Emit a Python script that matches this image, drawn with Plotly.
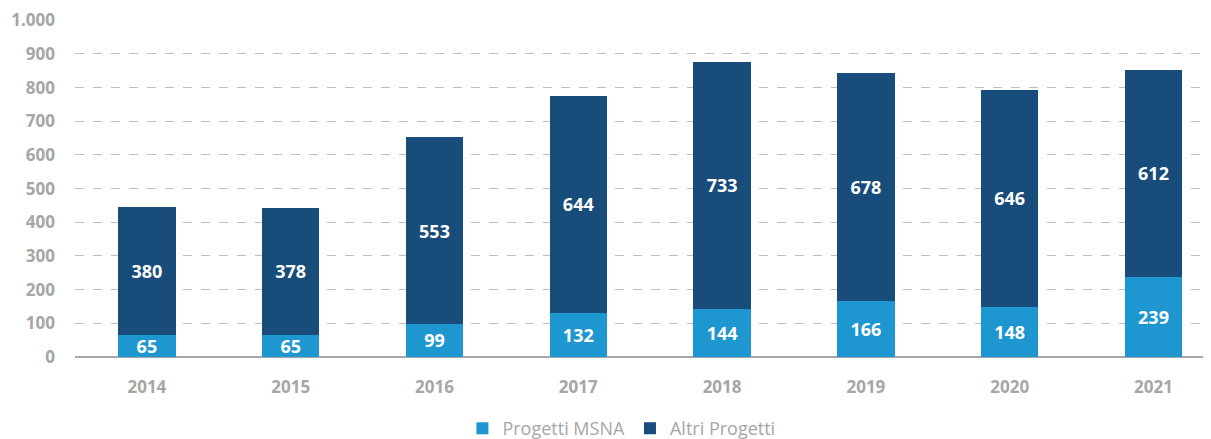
import plotly.graph_objects as go

years = ["2014", "2015", "2016", "2017", "2018", "2019", "2020", "2021"]
msna = [65, 65, 99, 132, 144, 166, 148, 239]
altri = [380, 378, 553, 644, 733, 678, 646, 612]
y_ticks = [0, 100, 200, 300, 400, 500, 600, 700, 800, 900, 1000]
y_tick_text = ["0", "100", "200", "300", "400", "500", "600", "700", "800", "900", "1.000"]

LIGHT = "#1E97D0"
DARK = "#184C7A"
GREY = "#A6A6A6"
FONT = "Open Sans"

fig = go.Figure()
fig.add_trace(go.Bar(
    x=years, y=msna, name="Progetti MSNA", marker=dict(color=LIGHT, line=dict(width=0)),
    text=[str(v) for v in msna], textposition="inside", insidetextanchor="middle",
    textangle=0, constraintext="none",
    textfont=dict(color="white", size=18, family=FONT, weight="bold"),
))
fig.add_trace(go.Bar(
    x=years, y=altri, name="Altri Progetti", marker=dict(color=DARK, line=dict(width=0)),
    text=[str(v) for v in altri], textposition="inside", insidetextanchor="middle",
    textangle=0, constraintext="none",
    textfont=dict(color="white", size=18, family=FONT, weight="bold"),
))

fig.update_layout(
    barmode="stack", bargap=0.6,
    width=1211, height=439,
    margin=dict(l=67, r=8, t=12, b=90, autoexpand=False),
    plot_bgcolor="white", paper_bgcolor="white",
    font=dict(family=FONT, color=GREY),
    uniformtext=dict(minsize=10, mode="show"),
    legend=dict(orientation="h", x=0.481, xanchor="center", y=-0.212, yanchor="middle",
                font=dict(size=18, color=GREY, family=FONT), itemwidth=30,
                traceorder="normal"),
    xaxis=dict(type="category", range=[-0.5, 7.4], showgrid=False, showline=False,
               ticks="", tickfont=dict(size=17, color=GREY, family=FONT, weight="bold"),
               ticklabelstandoff=18),
    yaxis=dict(range=[0, 1000.6], tickvals=y_ticks, ticktext=y_tick_text,
               showgrid=True, gridcolor="#BFBFBF", griddash="dash", gridwidth=1,
               zeroline=True, zerolinecolor="#A6A6A6", zerolinewidth=1.5,
               showline=False, ticks="",
               tickfont=dict(size=17, color=GREY, family=FONT, weight="bold"),
               ticklabelstandoff=19),
)

fig.write_html("out.html")
